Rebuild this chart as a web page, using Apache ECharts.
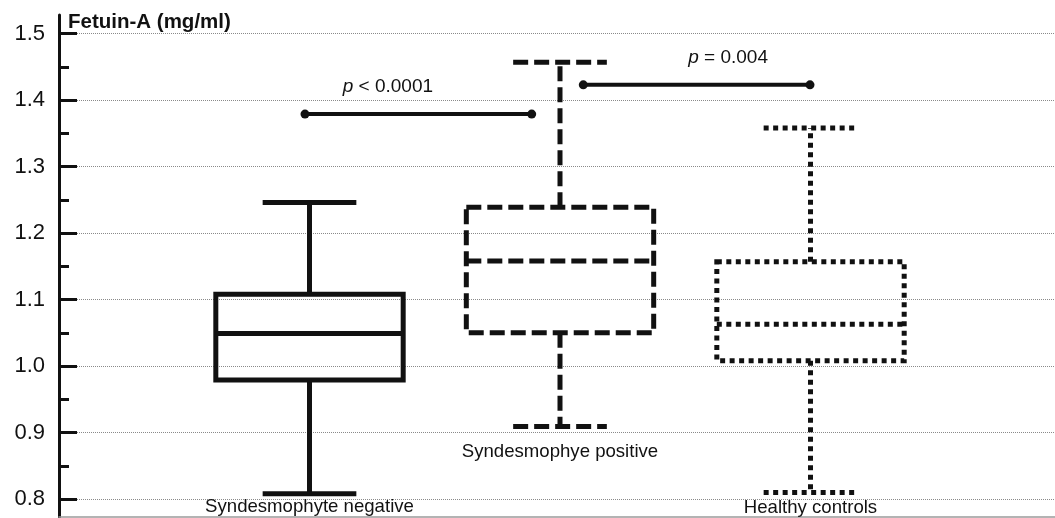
<!DOCTYPE html>
<html><head><meta charset="utf-8">
<script src="https://cdn.jsdelivr.net/npm/echarts@6/dist/echarts.min.js"></script>
<style>html,body{margin:0;padding:0;background:#fff}#c{width:1055px;height:518px}</style>
</head><body><div id="c"></div>
<script>
// ---- data ----
const categories = ['Syndesmophyte negative', 'Syndesmophye positive', 'Healthy controls'];
const whiskerLow  = [0.808, 0.909, 0.810];
const quart1      = [0.979, 1.050, 1.008];
const medians     = [1.049, 1.158, 1.063];
const quart3      = [1.108, 1.239, 1.157];
const whiskerHigh = [1.246, 1.457, 1.358];
const yTickValues  = [0.8, 0.9, 1.0, 1.1, 1.2, 1.3, 1.4, 1.5];
const yMinorValues = [0.85, 0.95, 1.05, 1.15, 1.25, 1.35, 1.45];
// comparison bars (x in category units: 1,2,3 = group centres)
const compFrom  = [0.982, 2.093];
const compTo    = [1.887, 2.998];
const compY     = [1.379, 1.423];
const compText  = ['< 0.0001', '= 0.004'];
const compTextX = [1.313, 2.671];
// where each group's name is written (value units)
const catLabelY = [0.788, 0.871, 0.787];

// ---- styles ----
const INK = '#111111';
const FONT = "'Liberation Sans', Arial, Helvetica, sans-serif";
const dashes = [null, [15, 6], [5, 4.5]];

const boxData = categories.map((c, i) => [i + 1, whiskerLow[i], quart1[i], medians[i], quart3[i], whiskerHigh[i]]);

const chart = echarts.init(document.getElementById('c'), null, {renderer: 'canvas'});

const series = [];
series.push({
  type: 'custom',
  name: 'boxes',
  xAxisIndex: 0, yAxisIndex: 0,
  encode: {x: 0, y: [1, 2, 3, 4, 5]},
  data: boxData,
  clip: false,
  renderItem: function (params, api) {
    const i = params.dataIndex;
    const x = api.value(0);
    const pLow = api.coord([x, api.value(1)]);
    const pQ1 = api.coord([x, api.value(2)]);
    const pMed = api.coord([x, api.value(3)]);
    const pQ3 = api.coord([x, api.value(4)]);
    const pHigh = api.coord([x, api.value(5)]);
    const hw = api.size([0.374, 0])[0];
    const cx = pMed[0];
    const st = {stroke: INK, lineWidth: 5, fill: null, lineDash: dashes[i], lineCap: 'butt'};
    const ln = (x1, y1, x2, y2) => ({type: 'line', shape: {x1, y1, x2, y2}, style: st});
    return {
      type: 'group',
      children: [
        ln(cx, pQ3[1], cx, pHigh[1]),
        ln(cx, pQ1[1], cx, pLow[1]),
        ln(cx - hw / 2, pHigh[1], cx + hw / 2, pHigh[1]),
        ln(cx - hw / 2, pLow[1], cx + hw / 2, pLow[1]),
        {type: 'rect', shape: {x: cx - hw, y: pQ3[1], width: 2 * hw, height: pQ1[1] - pQ3[1]}, style: st},
        ln(cx - hw, pMed[1], cx + hw, pMed[1])
      ]
    };
  }
});

compFrom.forEach((f, k) => {
  series.push({
    type: 'line',
    xAxisIndex: 0, yAxisIndex: 0,
    data: [[f, compY[k]], [compTo[k], compY[k]]],
    symbol: 'circle', symbolSize: 9,
    itemStyle: {color: INK},
    lineStyle: {color: INK, width: 4},
    silent: true, animation: false
  });
});

// p-value texts
series.push({
  type: 'custom',
  xAxisIndex: 0, yAxisIndex: 0,
  data: compText.map((t, k) => [compTextX[k], compY[k]]),
  clip: false, silent: true,
  renderItem: function (params, api) {
    const k = params.dataIndex;
    const p = api.coord([api.value(0), api.value(1)]);
    return {
      type: 'text',
      x: p[0], y: p[1] - 27,
      style: {
        text: '{i|p} ' + compText[k],
        align: 'center', verticalAlign: 'middle',
        fontFamily: FONT, fontSize: 19, fill: INK,
        rich: {i: {fontStyle: 'italic', fontFamily: FONT, fontSize: 19, fill: INK}}
      }
    };
  }
});

// group names
series.push({
  type: 'custom',
  xAxisIndex: 0, yAxisIndex: 0,
  data: categories.map((c, i) => [i + 1, catLabelY[i]]),
  clip: false, silent: true,
  renderItem: function (params, api) {
    const i = params.dataIndex;
    const p = api.coord([api.value(0), api.value(1)]);
    return {
      type: 'text',
      x: p[0], y: p[1],
      style: {
        text: categories[i], align: 'center', verticalAlign: 'middle',
        fontFamily: FONT, fontSize: 18.6, fill: INK
      }
    };
  }
});

chart.setOption({
  animation: false,
  backgroundColor: '#fff',
  title: {
    text: 'Fetuin-A (mg/ml)', left: 68, top: 12, padding: 0,
    textStyle: {fontFamily: FONT, fontSize: 20.5, fontWeight: 'bold', color: INK}
  },
  grid: {left: 59, top: 15, width: 1002, height: 502, containLabel: false, outerBoundsMode: 'none'},
  xAxis: [{
    type: 'value', min: 0, max: 4,
    axisLine: {show: true, lineStyle: {color: '#9a9a9a', width: 1.5}},
    axisTick: {show: false}, axisLabel: {show: false}, splitLine: {show: false}
  }],
  yAxis: [{
    type: 'value', min: 0.773, max: 1.528,
    axisLine: {show: true, lineStyle: {color: INK, width: 3}},
    axisTick: {show: true, inside: true, length: 18, customValues: yTickValues, lineStyle: {color: INK, width: 3}},
    axisLabel: {customValues: yTickValues, fontFamily: FONT, fontSize: 22, color: INK, margin: 14,
      formatter: v => Number(v).toFixed(1)},
    splitLine: {show: true, lineStyle: {color: '#8a8a8a', type: 'dotted', width: 1}}
  }, {
    type: 'value', min: 0.773, max: 1.528, position: 'left',
    axisLine: {show: false},
    axisTick: {show: true, inside: true, length: 10, customValues: yMinorValues, lineStyle: {color: INK, width: 3}},
    axisLabel: {show: false}, splitLine: {show: false}
  }],
  series: series
});
</script>
</body></html>
